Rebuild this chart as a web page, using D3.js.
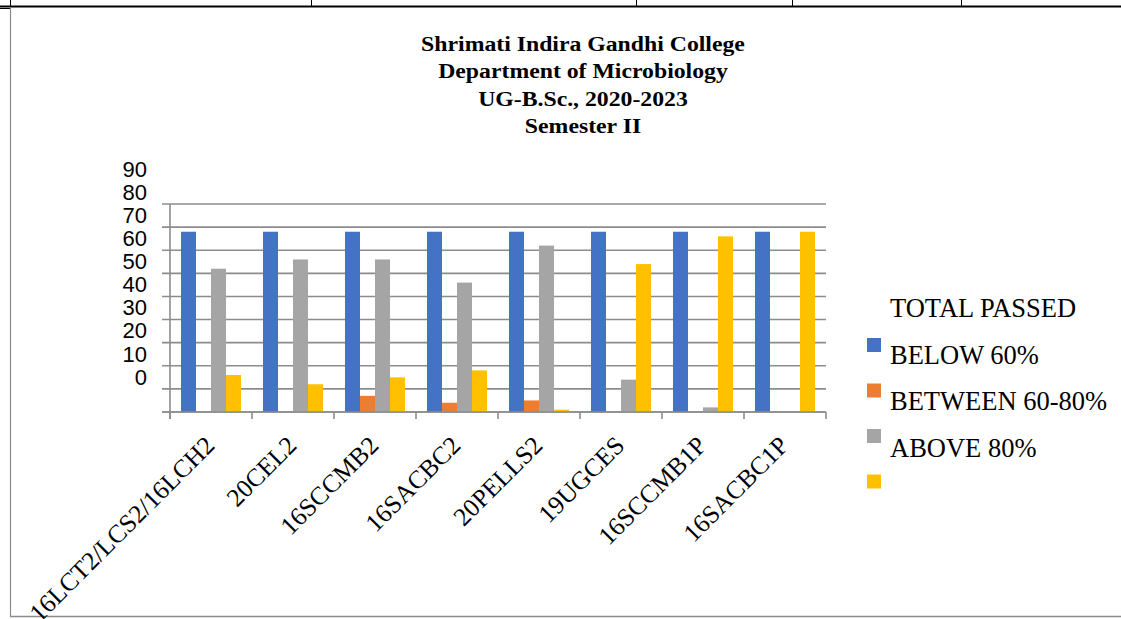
<!DOCTYPE html>
<html>
<head>
<meta charset="utf-8">
<script src="https://cdn.jsdelivr.net/npm/d3@7"></script>
<style>
  html, body { margin: 0; padding: 0; background: #fff; }
  svg { display: block; }
</style>
</head>
<body>
<svg id="chart" width="1121" height="619"></svg>
<script>
// ---- data ----
const categories = ["16LCT2/LCS2/16LCH2", "20CEL2", "16SCCMB2", "16SACBC2", "20PELLS2", "19UGCES", "16SCCMB1P", "16SACBC1P"];
const seriesNames = ["TOTAL PASSED", "BELOW 60%", "BETWEEN 60-80%", "ABOVE 80%"];
const totalPassed   = [78, 78, 78, 78, 78, 78, 78, 78];
const below60       = [0, 0, 7, 4, 5, 0, 0, 0];
const between60_80  = [62, 66, 66, 56, 72, 14, 2, 0];
const above80       = [16, 12, 15, 18, 1, 64, 76, 78];
const yTicks = [0, 10, 20, 30, 40, 50, 60, 70, 80, 90];
const titleLines = ["Shrimati Indira Gandhi College", "Department of Microbiology", "UG-B.Sc., 2020-2023", "Semester II"];
// legend as shown in the source (labels shifted against swatches)
const legendTexts = ["TOTAL PASSED", "BELOW 60%", "BETWEEN 60-80%", "ABOVE 80%"];

const seriesValues = [totalPassed, below60, between60_80, above80];
const colors = ["#4472C4", "#ED7D31", "#A5A5A5", "#FFC000"];

const svg = d3.select("#chart");

// ---- frame (document table lines) ----
svg.append("line").attr("x1", 0).attr("x2", 1121).attr("y1", 6.5).attr("y2", 6.5)
  .attr("stroke", "#000").attr("stroke-width", 2.2);
[10.5, 311.5, 636.5, 792.5, 961.5].forEach(x => {
  svg.append("line").attr("x1", x).attr("x2", x).attr("y1", 0).attr("y2", 6)
    .attr("stroke", "#000").attr("stroke-width", 1);
});
svg.append("line").attr("x1", 0).attr("x2", 10).attr("y1", 8.5).attr("y2", 8.5)
  .attr("stroke", "#000").attr("stroke-width", 1);
svg.append("line").attr("x1", 10.5).attr("x2", 10.5).attr("y1", 8).attr("y2", 617)
  .attr("stroke", "#8c8c8c").attr("stroke-width", 1.2);
svg.append("line").attr("x1", 10).attr("x2", 1121).attr("y1", 616.5).attr("y2", 616.5)
  .attr("stroke", "#8c8c8c").attr("stroke-width", 1.5);

// ---- scales ----
const x0 = d3.scaleBand().domain(categories).range([170, 826]).paddingInner(0.268).paddingOuter(0.134);
const x1 = d3.scaleBand().domain(seriesNames).range([0, x0.bandwidth()]).padding(0);
const y = d3.scaleLinear().domain([0, 90]).range([412, 204]);

// ---- gridlines ----
svg.append("g").selectAll("line").data(yTicks).join("line")
  .attr("x1", 162).attr("x2", 826)
  .attr("y1", d => y(d)).attr("y2", d => y(d))
  .attr("stroke", "#8c8c8c").attr("stroke-width", 1.6);

// y axis line
svg.append("line").attr("x1", 170).attr("x2", 170).attr("y1", y(90)).attr("y2", 419)
  .attr("stroke", "#8c8c8c").attr("stroke-width", 1.6);

// ---- bars ----
const groups = svg.append("g").selectAll("g").data(categories).join("g")
  .attr("transform", d => `translate(${x0(d)},0)`);
groups.selectAll("rect")
  .data((c, i) => seriesNames.map((s, j) => ({ s, j, v: seriesValues[j][i] })))
  .join("rect")
  .attr("x", d => x1(d.s))
  .attr("width", x1.bandwidth())
  .attr("y", d => y(d.v))
  .attr("height", d => y(0) - y(d.v))
  .attr("fill", d => colors[d.j]);

// baseline + category ticks
svg.append("line").attr("x1", 162).attr("x2", 826).attr("y1", y(0)).attr("y2", y(0))
  .attr("stroke", "#8c8c8c").attr("stroke-width", 1.6);
const tickX = categories.map(c => x0(c) - x0.step() * x0.paddingInner() / 2).concat([826]);
svg.append("g").selectAll("line").data(tickX).join("line")
  .attr("x1", d => d).attr("x2", d => d).attr("y1", y(0)).attr("y2", 419)
  .attr("stroke", "#8c8c8c").attr("stroke-width", 1.6);

// ---- y tick labels (shifted upward as in source) ----
svg.append("g").selectAll("text").data(yTicks).join("text")
  .attr("x", 147)
  .attr("y", d => y(d) - 35)
  .attr("dy", "0.35em")
  .attr("text-anchor", "end")
  .attr("font-family", "'Liberation Sans', Arial, sans-serif")
  .attr("font-size", 22)
  .attr("fill", "#000")
  .text(d => d);

// ---- x labels ----
svg.append("g").selectAll("text").data(categories).join("text")
  .attr("transform", d => `translate(${x0(d) + x0.bandwidth() / 2 + 5},447) rotate(-45)`)
  .attr("text-anchor", "end")
  .attr("font-family", "'Liberation Serif', 'Times New Roman', serif")
  .attr("font-size", 25.5)
  .attr("fill", "#000")
  .text(d => d);

// ---- title ----
svg.append("g").attr("transform", "translate(583,0) scale(1.08,1)")
  .selectAll("text").data(titleLines).join("text")
  .attr("x", 0)
  .attr("y", (d, i) => 51 + i * 27.5)
  .attr("text-anchor", "middle")
  .attr("font-family", "'Liberation Serif', 'Times New Roman', serif")
  .attr("font-weight", "bold")
  .attr("font-size", 22)
  .attr("fill", "#000")
  .text(d => d);

// ---- legend ----
const lg = svg.append("g");
lg.selectAll("rect").data(seriesNames).join("rect")
  .attr("x", 867).attr("y", (d, i) => 338 + i * 45.5)
  .attr("width", 14).attr("height", 14)
  .attr("fill", (d, i) => colors[i]);
lg.selectAll("text").data(legendTexts).join("text")
  .attr("x", 890).attr("y", (d, i) => 317 + i * 46.7)
  .attr("font-family", "'Liberation Serif', 'Times New Roman', serif")
  .attr("font-size", 26.5)
  .attr("fill", "#000")
  .text(d => d);
</script>
</body>
</html>
